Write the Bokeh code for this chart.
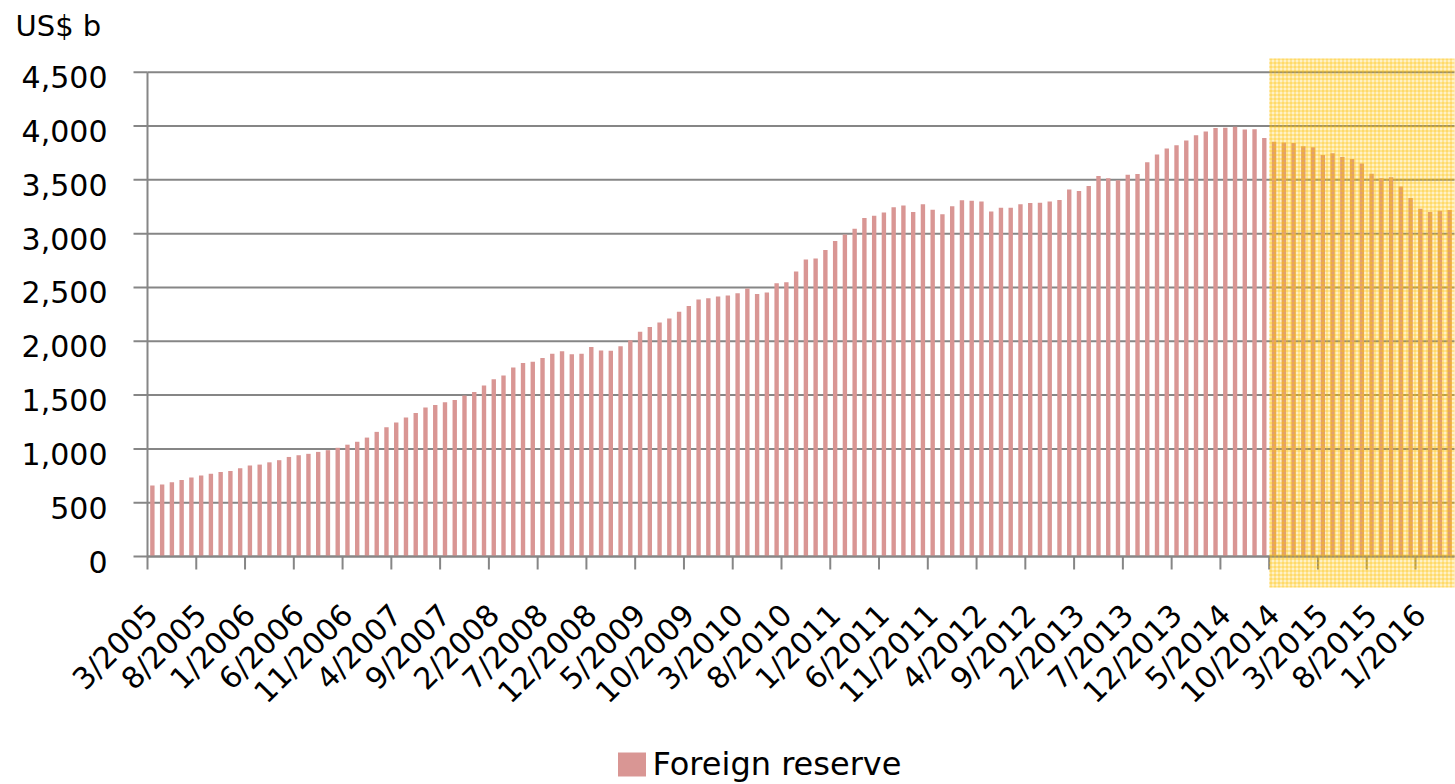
import math
from bokeh.plotting import figure
from bokeh.models import Range1d, Legend, LegendItem, LabelSet, ColumnDataSource
from bokeh.core.properties import value
from bokeh.embed import file_html
from bokeh.resources import INLINE

# ---------------- data ----------------
# Monthly foreign reserve, US$ billion, 3/2005 .. 4/2016
reserves_2005 = [659, 670, 691, 711, 733, 753, 769, 784, 795, 819]
reserves_2006 = [845, 854, 875, 895, 925, 941, 954, 972, 988, 1010, 1039, 1066]
reserves_2007 = [1105, 1158, 1202, 1246, 1292, 1333, 1385, 1408, 1434, 1455, 1497, 1528]
reserves_2008 = [1590, 1647, 1682, 1757, 1797, 1809, 1845, 1884, 1906, 1879, 1885, 1946]
reserves_2009 = [1913, 1912, 1954, 2009, 2089, 2132, 2175, 2211, 2273, 2328, 2388, 2399]
reserves_2010 = [2415, 2425, 2447, 2491, 2440, 2454, 2538, 2548, 2648, 2760, 2768, 2847]
reserves_2011 = [2932, 2991, 3045, 3145, 3166, 3197, 3245, 3262, 3202, 3274, 3221, 3181]
reserves_2012 = [3254, 3310, 3305, 3299, 3206, 3240, 3240, 3273, 3285, 3287, 3298, 3312]
reserves_2013 = [3410, 3395, 3443, 3535, 3515, 3497, 3548, 3553, 3663, 3736, 3790, 3821]
reserves_2014 = [3866, 3914, 3948, 3981, 3984, 3993, 3967, 3969, 3888, 3853, 3847, 3843]
reserves_2015 = [3813, 3802, 3730, 3748, 3711, 3694, 3651, 3557, 3514, 3525, 3438, 3330]
reserves_2016 = [3231, 3202, 3213, 3220]

tick_labels = ["3/2005", "8/2005", "1/2006", "6/2006", "11/2006", "4/2007", "9/2007",
               "2/2008", "7/2008", "12/2008", "5/2009", "10/2009", "3/2010", "8/2010",
               "1/2011", "6/2011", "11/2011", "4/2012", "9/2012", "2/2013", "7/2013",
               "12/2013", "5/2014", "10/2014", "3/2015", "8/2015", "1/2016"]
label_every = 5                 # one label / tick every 5 months
highlight_from = "10/2014"      # shaded period start
y_ticks = [0, 500, 1000, 1500, 2000, 2500, 3000, 3500, 4000, 4500]
y_tick_labels = ["0", "500", "1,000", "1,500", "2,000", "2,500", "3,000", "3,500", "4,000", "4,500"]
series_name = "Foreign reserve"
unit_label = "US$ b"

reserves = (reserves_2005 + reserves_2006 + reserves_2007 + reserves_2008 +
            reserves_2009 + reserves_2010 + reserves_2011 + reserves_2012 +
            reserves_2013 + reserves_2014 + reserves_2015 + reserves_2016)
n = len(reserves)
centers = [i + 0.5 for i in range(n)]
boundaries = [i * label_every for i in range(len(tick_labels))]
label_pos = [b + 0.5 for b in boundaries]

# ---------------- layout (page pixels of the plot area) ----------------
W, H = 1455, 784
plot_left, plot_right = 147.0, 1454.0
zero_y, top_y = 556.0, 71.7
y_max = y_ticks[-1]
kx = (plot_right - plot_left) / n          # px per category
ky = (zero_y - top_y) / y_max              # px per unit


def dx(px):
    return px / kx


def dy(px):
    return px / ky


x_range = Range1d(-plot_left / kx, n + (W - plot_right) / kx)
y_range = Range1d(-(H - zero_y) / ky, zero_y / ky)

GRAY = "#868686"
FONT = "DejaVu Sans"

p = figure(width=W, height=H, output_backend="svg", toolbar_location=None,
           title=None, x_range=x_range, y_range=y_range,
           x_axis_location=None, y_axis_location=None, min_border=0)
p.grid.visible = False
p.outline_line_color = None
p.background_fill_color = "white"
p.border_fill_color = "white"

# horizontal gridlines
p.segment(x0=[0] * len(y_ticks), x1=[n] * len(y_ticks), y0=y_ticks, y1=y_ticks,
          line_color=GRAY, line_width=2)

# bars
bars = p.vbar(x=centers, top=reserves, bottom=0, width=0.45,
              fill_color="#D99694", line_color=None)

# y axis line and tick marks (outside, 14 px)
p.segment(x0=[0], x1=[0], y0=[0], y1=[y_max], line_color=GRAY, line_width=2)
p.segment(x0=[-dx(14)] * len(y_ticks), x1=[0] * len(y_ticks), y0=y_ticks, y1=y_ticks,
          line_color=GRAY, line_width=2)

# x axis line and tick marks at category boundaries (13 px down)
p.segment(x0=[0], x1=[n], y0=[0], y1=[0], line_color=GRAY, line_width=2)
p.segment(x0=boundaries, x1=boundaries, y0=[0] * len(boundaries),
          y1=[-dy(13)] * len(boundaries), line_color=GRAY, line_width=2)

# highlighted period (pattern overlay, on top)
h0 = tick_labels.index(highlight_from) * label_every
p.quad(left=[h0], right=[n], bottom=[-dy(587 - zero_y)], top=[dy(zero_y - 58)],
       fill_color="#FFC000", fill_alpha=0.22,
       hatch_pattern="+", hatch_color="#FFC000", hatch_alpha=0.55,
       hatch_scale=4, hatch_weight=1, line_color=None)

# y tick labels
p.text(x=[-dx(40)] * len(y_ticks), y=y_ticks, text=y_tick_labels,
       text_font=value(FONT), text_font_size="30px", text_color="black",
       text_align="right", text_baseline="middle", y_offset=5)

# x tick labels (rotated 45 degrees, ending at the category centre)
xlab_src = ColumnDataSource(data=dict(x=label_pos, y=[-dy(53)] * len(label_pos),
                                      text=tick_labels))
p.add_layout(LabelSet(x="x", y="y", text="text", source=xlab_src,
                      angle=math.pi / 4, text_align="right", text_baseline="middle",
                      text_font=value(FONT), text_font_size=value("30px"),
                      text_color="black"))

# unit label
p.text(x=[-dx(plot_left - 15)], y=[dy(zero_y - 25)], text=[unit_label],
       text_font=value(FONT), text_font_size="29px", text_color="black",
       text_align="left", text_baseline="middle")

legend = Legend(items=[LegendItem(label=series_name, renderers=[bars])],
                location=(613.5, 1.5), orientation="horizontal",
                glyph_width=35, glyph_height=30, label_standoff=4,
                label_text_font=FONT, label_text_font_size="32px",
                label_text_color="black",
                padding=0, margin=0, spacing=0,
                border_line_color=None, background_fill_alpha=0)
p.add_layout(legend)

open("out.html", "w").write(file_html(p, INLINE))
